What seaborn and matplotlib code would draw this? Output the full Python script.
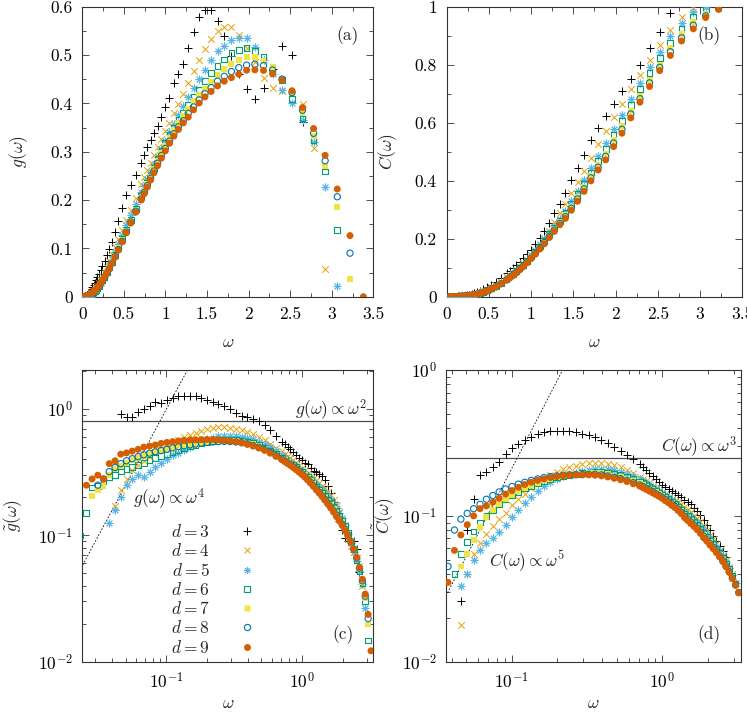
import numpy as np
import pandas as pd
import matplotlib
matplotlib.use("Agg")
import matplotlib.pyplot as plt
from matplotlib.lines import Line2D
from matplotlib.ticker import MultipleLocator, LogLocator, FuncFormatter, NullFormatter
import seaborn as sns

nan = float("nan")

# frequency bins (log spaced), shared by all d
omega = [0.0233, 0.0257, 0.0283, 0.0312, 0.0344, 0.0379, 0.0418, 0.0461, 0.0508, 0.0560,
         0.0618, 0.0681, 0.0751, 0.0828, 0.0913, 0.1007, 0.111, 0.1224, 0.135, 0.149,
         0.164, 0.181, 0.1995, 0.220, 0.242, 0.267, 0.295, 0.325, 0.358, 0.395,
         0.435, 0.480, 0.529, 0.583, 0.643,
         0.709, 0.745, 0.782, 0.821, 0.862, 0.905, 0.951, 0.998, 1.048, 1.101,
         1.156, 1.214, 1.274, 1.338, 1.405, 1.475, 1.549, 1.626, 1.707, 1.793,
         1.882, 1.976, 2.075, 2.179, 2.288, 2.402, 2.522, 2.648, 2.781, 2.920,
         3.066, 3.219, 3.380]

# reduced density of states g(w)/w^2, panel (c)
gt3 = [nan, nan, nan, nan, nan, nan, nan, 0.92, 0.86, 0.86,
       0.95, 1.00, 1.05, 1.13, 1.12, 1.18, 1.22, 1.27, 1.28, 1.28,
       1.26, 1.23, 1.19, 1.14, 1.10, 1.05, 1.00, 0.93, 0.89, 0.86,
       0.83, 0.80, 0.75, 0.68, 0.61,
       0.55, 0.53, 0.505, 0.48, 0.455, 0.43, 0.41, 0.395, 0.375, 0.365,
       0.345, 0.326, 0.317, 0.306, 0.293, 0.273, 0.247, 0.216, 0.185, 0.155,
       0.130, 0.110, 0.0952, 0.0908, 0.0898, 0.090, 0.0785, 0.0515, nan, nan,
       nan, nan, nan]
gt4 = [nan, nan, nan, nan, nan, nan, 0.17, 0.23, 0.28, 0.33,
       0.36, 0.39, 0.42, 0.45, 0.48, 0.51, 0.54, 0.57, 0.60, 0.625,
       0.65, 0.67, 0.69, 0.71, 0.72, 0.72, 0.715, 0.70, 0.685, 0.665,
       0.635, 0.60, 0.565, 0.53, 0.495,
       0.462, 0.445, 0.428, 0.411, 0.394, 0.377, 0.360, 0.344, 0.328, 0.313,
       0.298, 0.284, 0.272, 0.261, 0.248, 0.2355, 0.222, 0.208, 0.1915, 0.1733,
       0.153, 0.132, 0.1126, 0.0952, 0.0825, 0.0737, 0.066, 0.0569, 0.0398, 0.00664,
       nan, nan, nan]
gt5 = [nan, nan, nan, nan, nan, 0.125, 0.16, 0.20, 0.25, 0.28,
       0.30, 0.29, 0.32, 0.35, 0.375, 0.40, 0.43, 0.45, 0.475, 0.50,
       0.525, 0.55, 0.575, 0.595, 0.608, 0.615, 0.617, 0.613, 0.605, 0.592,
       0.575, 0.553, 0.527, 0.497, 0.465,
       0.430, 0.414, 0.399, 0.384, 0.369, 0.354, 0.338, 0.324, 0.310, 0.295,
       0.281, 0.267, 0.254, 0.241, 0.2285, 0.216, 0.204, 0.192, 0.178, 0.165,
       0.151, 0.137, 0.120, 0.103, 0.0879, 0.074, 0.0629, 0.052, 0.0414, 0.0267,
       0.00234, nan, nan]
gt6 = [0.10, 0.15, 0.24, 0.245, 0.27, 0.29, 0.30, 0.32, 0.335, 0.35,
       0.36, 0.375, 0.395, 0.41, 0.425, 0.44, 0.455, 0.47, 0.49, 0.505,
       0.52, 0.535, 0.548, 0.56, 0.568, 0.574, 0.576, 0.572, 0.565, 0.553,
       0.538, 0.518, 0.495, 0.468, 0.44,
       0.413, 0.396, 0.384, 0.372, 0.359, 0.347, 0.333, 0.319, 0.304, 0.289,
       0.273, 0.2575, 0.2444, 0.2307, 0.2173, 0.2048, 0.1926, 0.1808, 0.1685, 0.1566,
       0.144, 0.1316, 0.118, 0.1047, 0.0907, 0.0776, 0.0643, 0.0526, 0.0419, 0.0304,
       0.0147, nan, nan]
gt7 = [nan, nan, 0.205, 0.23, 0.245, 0.30, 0.335, 0.355, 0.375, 0.395,
       0.41, 0.425, 0.44, 0.455, 0.468, 0.48, 0.49, 0.50, 0.51, 0.52,
       0.53, 0.54, 0.548, 0.555, 0.56, 0.563, 0.563, 0.56, 0.553, 0.542,
       0.528, 0.51, 0.485, 0.46, 0.432,
       0.405, 0.393, 0.381, 0.368, 0.355, 0.342, 0.328, 0.314, 0.2996, 0.2847,
       0.2695, 0.254, 0.239, 0.2263, 0.2112, 0.198, 0.1851, 0.1736, 0.1616, 0.1496,
       0.1383, 0.1268, 0.115, 0.1028, 0.0909, 0.078, 0.0662, 0.0541, 0.043, 0.0318,
       0.0197, 0.00347, nan]
gt8 = [nan, nan, nan, 0.25, 0.28, 0.32, 0.345, 0.37, 0.39, 0.405,
       0.42, 0.435, 0.448, 0.46, 0.47, 0.48, 0.493, 0.503, 0.513, 0.522,
       0.53, 0.538, 0.545, 0.55, 0.553, 0.555, 0.554, 0.55, 0.543, 0.532,
       0.516, 0.498, 0.478, 0.455, 0.428,
       0.402, 0.389, 0.376, 0.3635, 0.350, 0.337, 0.323, 0.308, 0.293, 0.278,
       0.263, 0.247, 0.2338, 0.2193, 0.2062, 0.193, 0.1803, 0.1687, 0.1565, 0.1449,
       0.1338, 0.1227, 0.1117, 0.1007, 0.0896, 0.078, 0.0664, 0.055, 0.0437, 0.033,
       0.022, 0.00869, nan]
gt9 = [nan, 0.25, 0.28, 0.30, 0.28, 0.37, 0.39, 0.44, 0.45, 0.465,
       0.48, 0.50, 0.51, 0.52, 0.535, 0.545, 0.553, 0.56, 0.565, 0.57,
       0.572, 0.574, 0.575, 0.574, 0.572, 0.567, 0.56, 0.551, 0.54, 0.526,
       0.51, 0.492, 0.472, 0.448, 0.423,
       0.398, 0.384, 0.371, 0.358, 0.345, 0.331, 0.317, 0.303, 0.289, 0.274,
       0.259, 0.244, 0.229, 0.216, 0.203, 0.190, 0.177, 0.165, 0.153, 0.141,
       0.130, 0.120, 0.109, 0.0986, 0.0881, 0.0776, 0.067, 0.0558, 0.045, 0.0343,
       0.0237, 0.0122, 0.0]

# reduced cumulative distribution C(w)/w^3, panel (d)
ct3 = [nan, nan, nan, nan, nan, nan, nan, 0.026, 0.08, 0.13,
       0.19, 0.20, 0.215, 0.235, 0.265, 0.29, 0.31, 0.33, 0.348, 0.362,
       0.373, 0.38, 0.384, 0.384, 0.381, 0.375, 0.367, 0.357, 0.345, 0.33,
       0.315, 0.298, 0.28, 0.262, 0.245,
       0.226, 0.217, 0.207, 0.197, 0.187, 0.178, 0.17, 0.163, 0.157, 0.152,
       0.147, 0.1425, 0.1388, 0.134, 0.1294, 0.125, 0.1197, 0.114, 0.1084, 0.1011,
       0.0935, 0.0862, 0.0794, 0.0724, 0.0668, 0.0619, 0.057, 0.0526, nan, nan,
       nan, nan, nan]
ct4 = [nan, nan, nan, nan, nan, nan, nan, 0.018, 0.04, 0.055,
       0.065, 0.075, 0.085, 0.095, 0.105, 0.118, 0.13, 0.142, 0.155, 0.167,
       0.178, 0.19, 0.20, 0.208, 0.215, 0.221, 0.226, 0.229, 0.231, 0.231,
       0.228, 0.223, 0.215, 0.206, 0.196,
       0.186, 0.179, 0.173, 0.167, 0.161, 0.155, 0.149, 0.144, 0.139, 0.135,
       0.131, 0.1274, 0.1238, 0.1198, 0.1154, 0.1112, 0.1063, 0.1005, 0.0961, 0.0911,
       0.0858, 0.0804, 0.0744, 0.0691, 0.0639, 0.0588, 0.0541, 0.0495, 0.0449, 0.040,
       nan, nan, nan]
ct5 = [nan, nan, nan, nan, nan, nan, nan, 0.033, 0.04, 0.05,
       0.058, 0.065, 0.07, 0.077, 0.087, 0.098, 0.11, 0.122, 0.135, 0.148,
       0.16, 0.17, 0.179, 0.187, 0.193, 0.198, 0.202, 0.205, 0.208, 0.209,
       0.208, 0.205, 0.20, 0.194, 0.187,
       0.179, 0.174, 0.169, 0.164, 0.159, 0.153, 0.148, 0.143, 0.138, 0.133,
       0.128, 0.123, 0.1175, 0.1119, 0.1067, 0.1025, 0.0979, 0.0937, 0.0893, 0.0843,
       0.0795, 0.0749, 0.0703, 0.0659, 0.0615, 0.0571, 0.0527, 0.0484, 0.0439, 0.0394,
       0.0347, nan, nan]
ct6 = [nan, nan, nan, nan, nan, nan, 0.04, 0.055, 0.066, 0.078,
       0.09, 0.10, 0.11, 0.12, 0.13, 0.138, 0.146, 0.154, 0.161, 0.168,
       0.174, 0.179, 0.184, 0.188, 0.191, 0.194, 0.196, 0.198, 0.199, 0.199,
       0.197, 0.194, 0.19, 0.185, 0.179,
       0.172, 0.168, 0.163, 0.158, 0.154, 0.149, 0.144, 0.139, 0.135, 0.13,
       0.125, 0.1202, 0.1151, 0.1094, 0.1038, 0.0994, 0.095, 0.0907, 0.0861, 0.0812,
       0.0765, 0.0722, 0.0678, 0.0638, 0.0597, 0.0556, 0.0513, 0.0471, 0.043, 0.0388,
       0.0344, nan, nan]
ct7 = [nan, nan, nan, nan, nan, nan, nan, 0.045, 0.055, 0.068,
       0.084, 0.098, 0.11, 0.12, 0.13, 0.14, 0.148, 0.156, 0.163, 0.169,
       0.175, 0.18, 0.184, 0.188, 0.191, 0.193, 0.195, 0.196, 0.197, 0.196,
       0.193, 0.189, 0.185, 0.18, 0.174,
       0.167, 0.163, 0.159, 0.154, 0.15, 0.145, 0.141, 0.137, 0.132, 0.127,
       0.122, 0.1179, 0.1132, 0.1073, 0.1013, 0.0969, 0.0926, 0.0884, 0.084, 0.0789,
       0.0741, 0.07, 0.0658, 0.0618, 0.0579, 0.054, 0.0499, 0.0462, 0.0421, 0.038,
       0.0338, 0.030, nan]
ct8 = [nan, nan, nan, nan, nan, 0.045, 0.08, 0.095, 0.104, 0.112,
       0.12, 0.13, 0.138, 0.146, 0.153, 0.159, 0.165, 0.17, 0.175, 0.179,
       0.183, 0.186, 0.188, 0.19, 0.191, 0.192, 0.192, 0.193, 0.193, 0.191,
       0.188, 0.184, 0.18, 0.175, 0.169,
       0.163, 0.159, 0.155, 0.151, 0.147, 0.142, 0.138, 0.134, 0.13, 0.125,
       0.121, 0.1163, 0.1112, 0.1056, 0.0995, 0.0951, 0.0907, 0.0865, 0.0824, 0.0774,
       0.0726, 0.0687, 0.0646, 0.0609, 0.057, 0.0532, 0.0493, 0.0455, 0.0415, 0.0376,
       0.0336, 0.0298, nan]
ct9 = [nan, nan, nan, nan, nan, 0.035, 0.058, 0.074, 0.087, 0.10,
       0.112, 0.117, 0.124, 0.132, 0.141, 0.149, 0.157, 0.164, 0.17, 0.175,
       0.179, 0.183, 0.186, 0.188, 0.19, 0.191, 0.191, 0.191, 0.19, 0.188,
       0.185, 0.181, 0.177, 0.172, 0.166,
       0.16, 0.156, 0.152, 0.148, 0.144, 0.14, 0.136, 0.132, 0.127, 0.123,
       0.118, 0.114, 0.1088, 0.1035, 0.0973, 0.0929, 0.0885, 0.0845, 0.0803, 0.0758,
       0.0708, 0.0671, 0.0631, 0.0596, 0.056, 0.0523, 0.0486, 0.0448, 0.041, 0.0371,
       0.0334, 0.0297, nan]

dims = [3, 4, 5, 6, 7, 8, 9]
g_tilde = [gt3, gt4, gt5, gt6, gt7, gt8, gt9]
c_tilde = [ct3, ct4, ct5, ct6, ct7, ct8, ct9]

# guide lines: Debye levels and low-frequency power laws
g_debye_level = 0.80
g_w4_prefactor = 100.0
c_debye_level = 0.25
c_w5_prefactor = 21.0

colors = ["black", "#E69F00", "#56B4E9", "#009E73", "#F0E442", "#0072B2", "#D55E00"]
markers = ["+", "x", (8, 2, 0), "s", "s", "o", "o"]
kinds = ["line", "line", "line", "open", "full", "open", "full"]
sizes = [26, 22, 26, 17, 18, 20, 25]

FS = 12.5


def scatter(ax, data, col, i):
    kw = dict(marker=markers[i], s=sizes[i], ax=ax, legend=False, zorder=3 + i)
    if kinds[i] == "line":
        kw.update(color=colors[i], linewidth=0.7)
    elif kinds[i] == "open":
        kw.update(facecolor="none", edgecolor=colors[i], linewidth=0.8)
    else:
        kw.update(color=colors[i], edgecolor="none", linewidth=0)
    sns.scatterplot(data=data, x="omega", y=col, **kw)


def style_axes(ax):
    for sp in ax.spines.values():
        sp.set_color("#333333")
        sp.set_linewidth(0.8)
    ax.tick_params(which="both", direction="in", top=True, right=True,
                   colors="#333333", labelcolor="black", width=0.6, labelsize=FS, pad=7)
    ax.tick_params(which="major", length=5)
    ax.tick_params(which="minor", length=3)


def main():
    sns.set_theme(style="ticks")
    plt.rcParams.update({
        "font.family": ["cmr10", "DejaVu Serif"],
        "mathtext.fontset": "cm",
        "axes.formatter.use_mathtext": True,
        "axes.unicode_minus": False,
        "font.size": FS,
        "axes.labelsize": FS,
    })

    w = np.array(omega)
    frames = []
    for d, gt, ct in zip(dims, g_tilde, c_tilde):
        gt = np.array(gt)
        ct = np.array(ct)
        frames.append(pd.DataFrame({"omega": w, "d": d, "g_tilde": gt, "C_tilde": ct,
                                    "g": gt * w ** 2, "C": ct * w ** 3}))
    df = pd.concat(frames, ignore_index=True)
    df_log = df.copy()
    df_log.loc[df_log["g_tilde"] <= 0, "g_tilde"] = nan

    fig = plt.figure(figsize=(7.47, 7.12), dpi=100)
    ax_a = fig.add_axes([0.1102, 0.5833, 0.3896, 0.4073])
    ax_b = fig.add_axes([0.5980, 0.5833, 0.3957, 0.4073])
    ax_c = fig.add_axes([0.1102, 0.0706, 0.3896, 0.4097])
    ax_d = fig.add_axes([0.5977, 0.0706, 0.3942, 0.4097])

    for ax in (ax_c, ax_d):
        ax.set_xscale("log")
        ax.set_yscale("log")

    for i, d in enumerate(dims):
        sub = df[df["d"] == d]
        sub_log = df_log[df_log["d"] == d]
        scatter(ax_a, sub, "g", i)
        scatter(ax_b, sub, "C", i)
        scatter(ax_c, sub_log, "g_tilde", i)
        scatter(ax_d, sub_log, "C_tilde", i)

    fmt = FuncFormatter(lambda v, p: "%g" % v)

    # (a)
    ax_a.set_xlim(0, 3.5)
    ax_a.set_ylim(0, 0.6)
    ax_a.xaxis.set_major_locator(MultipleLocator(0.5))
    ax_a.xaxis.set_minor_locator(MultipleLocator(0.25))
    ax_a.yaxis.set_major_locator(MultipleLocator(0.1))
    ax_a.yaxis.set_minor_locator(MultipleLocator(0.05))
    ax_a.xaxis.set_major_formatter(fmt)
    ax_a.yaxis.set_major_formatter(fmt)
    ax_a.set_xlabel(r"$\omega$")
    ax_a.set_ylabel(r"$g(\omega)$")
    ax_a.text(0.91, 0.90, "(a)", transform=ax_a.transAxes, ha="center", va="center")

    # (b)
    ax_b.set_xlim(0, 3.5)
    ax_b.set_ylim(0, 1)
    ax_b.xaxis.set_major_locator(MultipleLocator(0.5))
    ax_b.xaxis.set_minor_locator(MultipleLocator(0.25))
    ax_b.yaxis.set_major_locator(MultipleLocator(0.2))
    ax_b.yaxis.set_minor_locator(MultipleLocator(0.1))
    ax_b.xaxis.set_major_formatter(fmt)
    ax_b.yaxis.set_major_formatter(fmt)
    ax_b.set_xlabel(r"$\omega$")
    ax_b.set_ylabel(r"$C(\omega)$")
    ax_b.text(0.887, 0.90, "(b)", transform=ax_b.transAxes, ha="center", va="center")

    # guide lines for the log panels
    w_line = np.geomspace(0.02, 4.0, 60)
    ax_c.axhline(g_debye_level, color="#4d4d4d", lw=0.9, zorder=2)
    ax_c.plot(w_line, g_w4_prefactor * w_line ** 2, color="black", lw=0.6,
              dashes=(2, 2), zorder=2)
    ax_d.axhline(c_debye_level, color="#4d4d4d", lw=0.9, zorder=2)
    ax_d.plot(w_line, c_w5_prefactor * w_line ** 2, color="black", lw=0.6,
              dashes=(2, 2), zorder=2)

    # (c)
    ax_c.set_xlim(0.024, 3.35)
    ax_c.set_ylim(0.01, 2.04)
    ax_c.set_xlabel(r"$\omega$")
    ax_c.set_ylabel(r"$\tilde{g}(\omega)$")
    ax_c.text(0.977, 0.865, r"$g(\omega)\propto\omega^2$", transform=ax_c.transAxes,
              ha="right", va="center")
    ax_c.text(0.175, 0.56, r"$g(\omega)\propto\omega^4$", transform=ax_c.transAxes,
              ha="left", va="center")
    ax_c.text(0.897, 0.092, "(c)", transform=ax_c.transAxes, ha="center", va="center")

    # (d)
    ax_d.set_xlim(0.037, 3.33)
    ax_d.set_ylim(0.01, 1)
    ax_d.set_xlabel(r"$\omega$")
    ax_d.set_ylabel(r"$\tilde{C}(\omega)$")
    ax_d.text(0.985, 0.737, r"$C(\omega)\propto\omega^3$", transform=ax_d.transAxes,
              ha="right", va="center")
    ax_d.text(0.144, 0.343, r"$C(\omega)\propto\omega^5$", transform=ax_d.transAxes,
              ha="left", va="center")
    ax_d.text(0.891, 0.092, "(d)", transform=ax_d.transAxes, ha="center", va="center")

    for ax in (ax_c, ax_d):
        ax.xaxis.set_major_locator(LogLocator(base=10, numticks=10))
        ax.xaxis.set_minor_locator(LogLocator(base=10, subs=np.arange(2, 10), numticks=20))
        ax.yaxis.set_major_locator(LogLocator(base=10, numticks=10))
        ax.yaxis.set_minor_locator(LogLocator(base=10, subs=np.arange(2, 10), numticks=20))
        ax.xaxis.set_minor_formatter(NullFormatter())
        ax.yaxis.set_minor_formatter(NullFormatter())

    for ax in (ax_a, ax_b, ax_c, ax_d):
        style_axes(ax)
    for ax in (ax_a, ax_b):
        ax.xaxis.set_label_coords(0.5, -0.132)
    for ax in (ax_c, ax_d):
        ax.xaxis.set_label_coords(0.5, -0.118)

    ax_a.yaxis.set_label_coords(-0.18, 0.5)
    ax_b.yaxis.set_label_coords(-0.16, 0.5)
    ax_c.yaxis.set_label_coords(-0.2, 0.5)
    ax_d.yaxis.set_label_coords(-0.172, 0.5)

    # legend, gnuplot style: label then symbol
    handles = []
    for i in range(len(dims)):
        if kinds[i] == "line":
            h = Line2D([], [], ls="none", marker=markers[i], color=colors[i],
                       markersize=np.sqrt(sizes[i]), markeredgewidth=0.7)
        elif kinds[i] == "open":
            h = Line2D([], [], ls="none", marker=markers[i], markerfacecolor="none",
                       markeredgecolor=colors[i], markersize=np.sqrt(sizes[i]),
                       markeredgewidth=0.8)
        else:
            h = Line2D([], [], ls="none", marker=markers[i], color=colors[i],
                       markeredgecolor="none", markersize=np.sqrt(sizes[i]))
        handles.append(h)
    labels = [r"$d = %d$" % d for d in dims]
    ax_c.legend(handles, labels, loc="upper left", bbox_to_anchor=(0.305, 0.475),
                markerfirst=False, frameon=False, handlelength=1.0,
                handletextpad=1.6, labelspacing=0.13, borderpad=0, borderaxespad=0,
                fontsize=FS)

    fig.savefig("out.png", dpi=100)
    plt.close(fig)


if __name__ == "__main__":
    main()
